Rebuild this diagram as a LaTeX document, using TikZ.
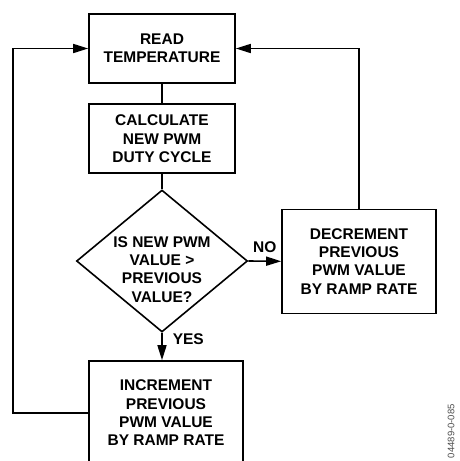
\documentclass[tikz,border=0pt]{standalone}
\usepackage{fontspec}
\setmainfont{Liberation Sans}
\usepackage{tikz}
\usetikzlibrary{shapes.geometric,arrows.meta}

\begin{document}
\begin{tikzpicture}[x=1pt, y=-1pt,
  box/.style={rectangle, draw=black, line width=1.6pt, minimum width=146pt, minimum height=69pt, align=center, font=\bfseries\fontsize{15.5}{18.3}\selectfont, inner sep=0pt},
  bigbox/.style={box, minimum width=154pt, minimum height=104pt},
  decide/.style={diamond, draw=black, line width=1.6pt, minimum width=171pt, minimum height=142pt, inner sep=0pt},
  txt/.style={align=center, font=\bfseries\fontsize{15.5}{18.3}\selectfont},
  arrow/.style={-{Triangle[length=15pt, width=9pt]}, line width=1.6pt},
  line/.style={line width=1.6pt},
  label/.style={font=\bfseries\fontsize{15.5}{18}\selectfont, inner sep=2pt}
]
\clip (0,0) rectangle (459,461);

% Main column
\node[box] (read) at (162,48.5) {READ\\TEMPERATURE};
\node[box] (calc) at (162,138.7) {CALCULATE\\NEW PWM\\DUTY CYCLE};
\node[decide] (cmp) at (162,261) {};
\node[txt] (cmptext) at (162,269.5) {IS NEW PWM\\VALUE >\\PREVIOUS\\VALUE?};
\node[bigbox] (incr) at (166,413) {INCREMENT\\PREVIOUS\\PWM VALUE\\BY RAMP RATE};

% Side branch
\node[bigbox] (decr) at (359,261.3) {DECREMENT\\PREVIOUS\\PWM VALUE\\BY RAMP RATE};

% Figure number
\node[rotate=90, anchor=east, font=\fontsize{9.5}{10}\selectfont, text=black!70, inner sep=0pt] (fignum) at (451,404) {04489-0-085};

% Connections
\draw[line] (read) -- (calc);
\draw[line] (calc) -- (cmp.north);
\draw[arrow] (cmp.east) -- node[label, above=6pt] (no) {NO} (decr.west);
\draw[arrow] (cmp.south) -- node[label, right=8pt, pos=0.25] (yes) {YES} (incr.north -| cmp.south);

% Loops back to the top
\draw[arrow] (incr.west) -- ++(-75,0) |- (read.west);
\draw[arrow] (decr.north) |- (read.east);

\end{tikzpicture}
\end{document}
